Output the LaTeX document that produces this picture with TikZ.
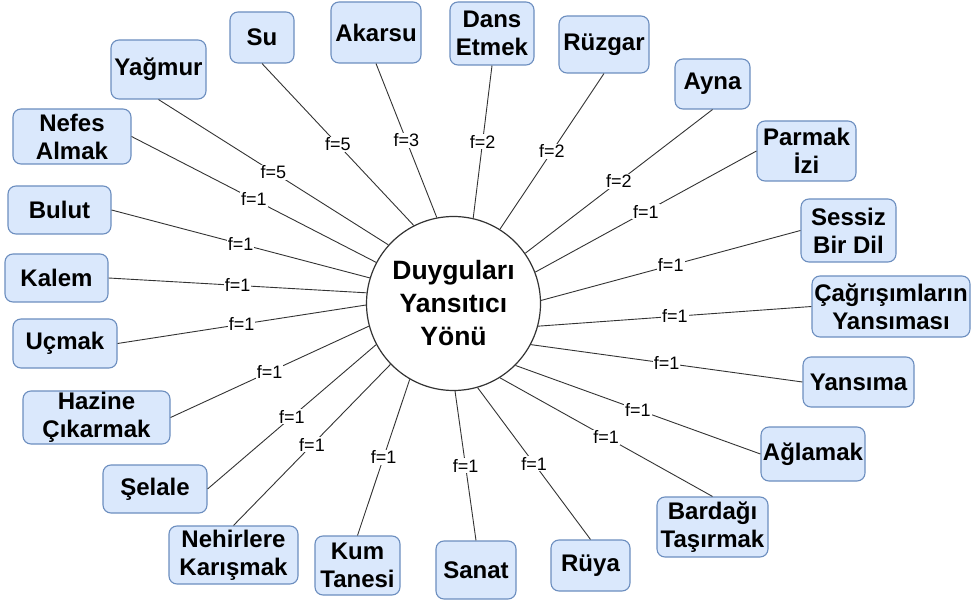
\documentclass[tikz,border=0pt]{standalone}
\usepackage{fontspec}
\setmainfont{Liberation Sans}
\definecolor{boxfill}{HTML}{DAE8FC}
\definecolor{boxline}{HTML}{6C8EBF}
\definecolor{edgegray}{HTML}{333333}
\tikzset{
  box/.style={draw=boxline, fill=boxfill, rounded corners=8pt, line width=1.1pt,
    align=center, inner sep=0pt, font=\fontsize{24}{28}\selectfont\bfseries},
  hub/.style={circle, draw=edgegray, line width=1.2pt, fill=white, inner sep=0pt,
    minimum size=174pt, align=center, font=\fontsize{26.5}{33}\selectfont\bfseries},
  link/.style={draw=edgegray, line width=0.9pt},
  lbl/.style={fill=white, inner sep=1pt, font=\fontsize{18}{20}\selectfont, text=black},
}
\begin{document}
\begin{tikzpicture}[x=1pt, y=-1pt]
\useasboundingbox (0,0) rectangle (971,601);

% central concept
\node[hub] (c) at (453.5,303.5) {Duyguları\\Yansıtıcı\\Yönü};

% surrounding concepts
\node[box, minimum width=64pt,  minimum height=51pt] (su)      at (262,37.5)    {Su};
\node[box, minimum width=95pt,  minimum height=59pt] (yag)     at (158.5,69.5)  {Yağmur};
\node[box, minimum width=118pt, minimum height=55pt] (nefes)   at (72,136.5)    {Nefes\\Almak};
\node[box, minimum width=103pt, minimum height=48pt] (bulut)   at (59.5,210)    {Bulut};
\node[box, minimum width=103pt, minimum height=48pt] (kalem)   at (56.5,278)    {Kalem};
\node[box, minimum width=104pt, minimum height=49pt] (ucmak)   at (65,343.5)    {Uçmak};
\node[box, minimum width=147pt, minimum height=53pt] (hazine)  at (96.5,417.5)  {Hazine\\Çıkarmak};
\node[box, minimum width=104pt, minimum height=48pt] (selale)  at (155,489)     {Şelale};
\node[box, minimum width=129pt, minimum height=58pt] (nehir)   at (233.5,555)   {Nehirlere\\Karışmak};
\node[box, minimum width=85pt,  minimum height=59pt] (kum)     at (357.5,565.5) {Kum\\Tanesi};
\node[box, minimum width=80pt,  minimum height=58pt] (sanat)   at (476,570)     {Sanat};
\node[box, minimum width=79pt,  minimum height=51pt] (ruya)    at (590.5,565.5) {Rüya};
\node[box, minimum width=111pt, minimum height=60pt] (bardak)  at (712.5,527)   {Bardağı\\Taşırmak};
\node[box, minimum width=104pt, minimum height=54pt] (aglamak) at (813,454)     {Ağlamak};
\node[box, minimum width=111pt, minimum height=50pt] (yansima) at (858.5,382)   {Yansıma};
\node[box, minimum width=158pt, minimum height=61pt] (cagri)   at (891,306.5)   {Çağrışımların\\Yansıması};
\node[box, minimum width=95pt,  minimum height=63pt] (sessiz)  at (848.5,230.5) {Sessiz\\Bir Dil};
\node[box, minimum width=99pt,  minimum height=60pt] (parmak)  at (806.5,151)   {Parmak\\İzi};
\node[box, minimum width=75pt,  minimum height=50pt] (ayna)    at (712.5,84)    {Ayna};
\node[box, minimum width=90pt,  minimum height=57pt] (ruzgar)  at (604,44.5)    {Rüzgar};
\node[box, minimum width=84pt,  minimum height=63pt] (dans)    at (492,33.5)    {Dans\\Etmek};
\node[box, minimum width=90pt,  minimum height=61pt] (akarsu)  at (376,32.5)    {Akarsu};

% weighted links, each meeting the circle at its own angle
\draw[link] (su.south)      -- node[lbl]{f=5} (c.117.5);
\draw[link] (yag.south)     -- node[lbl]{f=5} (c.138.1);
\draw[link] (akarsu.south)  -- node[lbl]{f=3} (c.101.2);
\draw[link] (dans.south)    -- node[lbl]{f=2} (c.77.9);
\draw[link] (ruzgar.south)  -- node[lbl]{f=2} (c.58.3);
\draw[link] (ayna.south)    -- node[lbl]{f=2} (c.35.9);
\draw[link] (parmak.west)   -- node[lbl]{f=1} (c.21.3);
\draw[link] (sessiz.west)   -- node[lbl]{f=1} (c.2.8);
\draw[link] (cagri.west)    -- node[lbl]{f=1} (c.-15.1);
\draw[link] (yansima.west)  -- node[lbl]{f=1} (c.-28.4);
\draw[link] (aglamak.west)  -- node[lbl]{f=1} (c.-45);
\draw[link] (bardak.north)  -- node[lbl]{f=1} (c.-58.1);
\draw[link] (ruya.north)    -- node[lbl]{f=1} (c.-74.4);
\draw[link] (sanat.north)   -- node[lbl]{f=1} (c.-89);
\draw[link] (kum.north)     -- node[lbl]{f=1} (c.240.4);
\draw[link] (nehir.north)   -- node[lbl]{f=1} (c.224.9);
\draw[link] (selale.east)   -- node[lbl]{f=1} (c.208.8);
\draw[link] (hazine.east)   -- node[lbl]{f=1} (c.195.2);
\draw[link] (ucmak.east)    -- node[lbl]{f=1} (c.181);
\draw[link] (kalem.east)    -- node[lbl]{f=1} (c.173.3);
\draw[link] (bulut.east)    -- node[lbl]{f=1} (c.163.3);
\draw[link] (nefes.east)    -- node[lbl]{f=1} (c.152.9);
\end{tikzpicture}
\end{document}
